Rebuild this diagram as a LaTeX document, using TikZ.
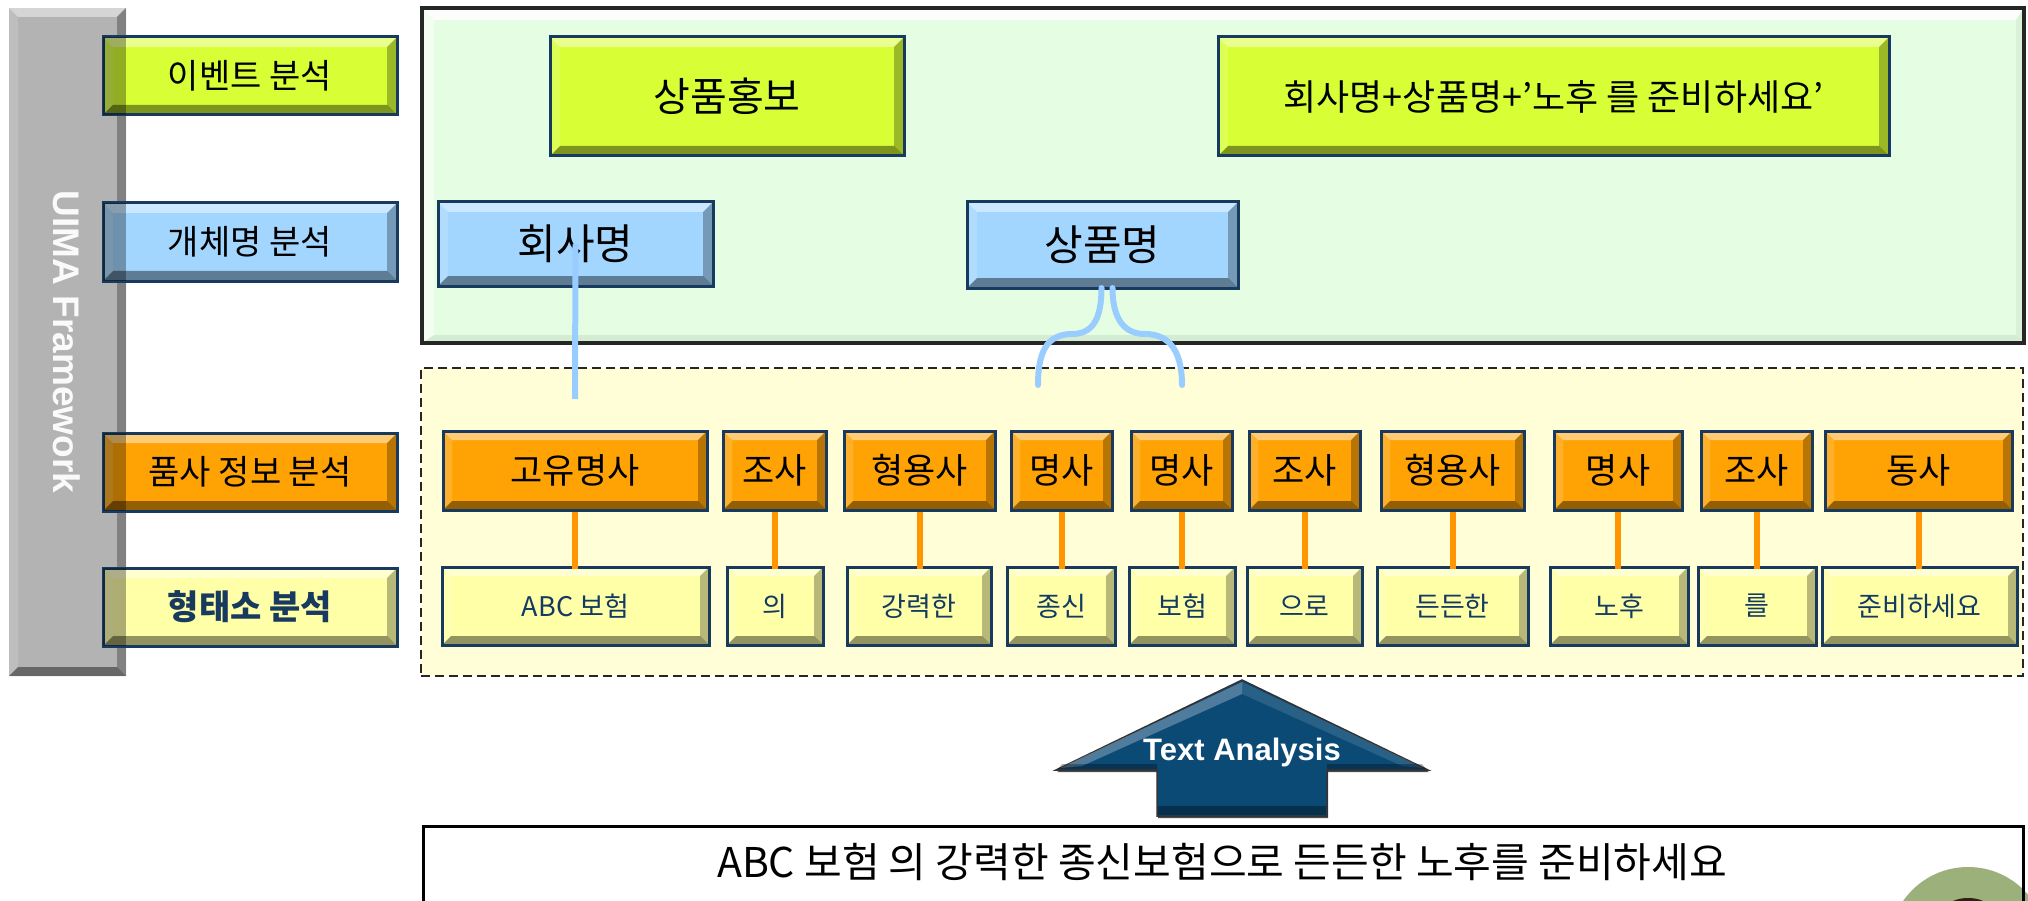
\documentclass[tikz,border=0pt]{standalone}
\usepackage{fontspec}
\setmainfont{Noto Sans CJK KR}
\newfontfamily\arialb{Liberation Sans}
\definecolor{evc}{HTML}{D8FF36}
\definecolor{enc}{HTML}{A3D6FF}
\definecolor{posc}{HTML}{FFA305}
\definecolor{morc}{HTML}{FFFFA8}
\definecolor{navy}{HTML}{173A5E}
\definecolor{oconn}{HTML}{FF9500}
\definecolor{bconn}{HTML}{9ACDFF}
\definecolor{arrc}{HTML}{0C4A76}
\definecolor{greenbg}{HTML}{E5FEE3}
\definecolor{dashbg}{HTML}{FFFED6}
\definecolor{barc}{HTML}{B3B3B3}
\definecolor{blobc}{HTML}{9BB07A}
\definecolor{mtext}{HTML}{123A63}
\tikzset{
  bevel/.style={path picture={
    \path (path picture bounding box.north west) coordinate (bNW)
          (path picture bounding box.north east) coordinate (bNE)
          (path picture bounding box.south west) coordinate (bSW)
          (path picture bounding box.south east) coordinate (bSE);
    \path ([shift={(#1,-#1)}]bNW) coordinate (iNW)
          ([shift={(-#1,-#1)}]bNE) coordinate (iNE)
          ([shift={(#1,#1)}]bSW) coordinate (iSW)
          ([shift={(-#1,#1)}]bSE) coordinate (iSE);
    \fill[white,fill opacity=.45] (bNW) -- (bNE) -- (iNE) -- (iNW) -- cycle;
    \fill[white,fill opacity=.15] (bNW) -- (iNW) -- (iSW) -- (bSW) -- cycle;
    \fill[black,fill opacity=.28] (bNE) -- (bSE) -- (iSE) -- (iNE) -- cycle;
    \fill[black,fill opacity=.42] (bSW) -- (iSW) -- (iSE) -- (bSE) -- cycle;
  }},
  bevel/.default=10pt,
  panelbevel/.style={path picture={
    \path (path picture bounding box.north west) coordinate (bNW)
          (path picture bounding box.north east) coordinate (bNE)
          (path picture bounding box.south west) coordinate (bSW)
          (path picture bounding box.south east) coordinate (bSE);
    \path ([shift={(12pt,-12pt)}]bNW) coordinate (iNW)
          ([shift={(-8pt,-12pt)}]bNE) coordinate (iNE)
          ([shift={(12pt,8pt)}]bSW) coordinate (iSW)
          ([shift={(-8pt,8pt)}]bSE) coordinate (iSE);
    \fill[white,fill opacity=.85] (bNW) -- (bNE) -- (iNE) -- (iNW) -- cycle;
    \fill[white,fill opacity=.5] (bNW) -- (iNW) -- (iSW) -- (bSW) -- cycle;
    \fill[black,fill opacity=.05] (bNE) -- (bSE) -- (iSE) -- (iNE) -- cycle;
    \fill[black,fill opacity=.07] (bSW) -- (iSW) -- (iSE) -- (bSE) -- cycle;
  }},
  boxbase/.style={draw=navy, line width=3pt, inner sep=0pt, outer sep=0pt},
  lblbox/.style={boxbase, bevel, font=\fontsize{34}{36}\selectfont},
  evbox/.style={boxbase, bevel, fill=evc},
  enbox/.style={boxbase, bevel, fill=enc, font=\fontsize{42}{44}\selectfont},
  posbox/.style={boxbase, bevel=9pt, fill=posc, font=\fontsize{35}{37}\selectfont},
  morbox/.style={boxbase, bevel=9pt, fill=morc, text=mtext, font=\fontsize{27}{29}\selectfont},
  barbox/.style={fill=barc, inner sep=0pt, outer sep=0pt, bevel=9pt},
  greenpanel/.style={fill=greenbg, draw=black!85, line width=4pt, inner sep=0pt, outer sep=0pt, panelbevel},
  dashpanel/.style={fill=dashbg, draw=black!85, line width=2.2pt, dash pattern=on 9pt off 5pt, inner sep=0pt, outer sep=0pt},
  sentbox/.style={fill=white, draw=black, line width=3pt, inner sep=0pt, outer sep=0pt},
  oline/.style={draw=oconn, line width=6pt},
  bline/.style={draw=bconn, line width=6pt, line cap=round},
  shade/.style={fill=black, fill opacity=.32},
}
\newcommand\mkbox[7]{\node[#6, minimum width={(#4)-(#2)}, minimum height={(#5)-(#3)}] (#1) at ({((#2)+(#4))/2},{((#3)+(#5))/2}) {#7};}
\begin{document}
\begin{tikzpicture}[x=1pt,y=-1pt]
\useasboundingbox (0,0) rectangle (2028,901);
\clip (0,0) rectangle (2028,901);
\fill[white] (0,0) rectangle (2028,901);

% framework bar
\mkbox{gbar}{9}{8}{126}{676}{barbox}{}

% panels
\mkbox{gpanel}{422}{8}{2024}{343}{greenpanel}{}
\mkbox{dpanel}{421}{368}{2023}{676}{dashpanel}{}
\mkbox{sbox}{423}{826}{2023}{960}{sentbox}{}

% left label boxes
\mkbox{le1}{103}{37}{397}{115}{lblbox, fill=evc}{이벤트 분석}
\mkbox{le2}{103}{203}{397}{281}{lblbox, fill=enc}{개체명 분석}
\mkbox{le3}{103}{433}{397}{511}{lblbox, fill=posc}{품사 정보 분석}
\mkbox{le4}{103}{568}{397}{646}{lblbox, fill=morc, text=navy}{\bfseries 형태소 분석}
\foreach \b in {le1,le2,le3,le4}{
  \fill[shade] (\b.north west) rectangle (\b.south west -| gbar.east);
}
\node[rotate=-90, text=white!96!gray, font=\arialb\bfseries\fontsize{37}{40}\selectfont] (uima) at (67,342) {UIMA Framework};

% event boxes
\mkbox{ev1}{550}{37}{904}{156}{evbox, font=\fontsize{40}{42}\selectfont}{상품홍보}
\mkbox{ev2}{1218}{37}{1889}{156}{evbox, font=\fontsize{36}{38}\selectfont}{회사명+상품명+’노후 를 준비하세요’}

% entity boxes
\mkbox{en1}{438}{202}{713}{286}{enbox}{회사명}
\mkbox{en2}{967}{202}{1238}{288}{enbox}{상품명}

% entity connectors
\coordinate (e1) at (575,399);
\draw[bline, line cap=butt] (en1.center) -- (e1);
\coordinate (lm) at (1072,334);
\coordinate (l1) at (1038,385);
\coordinate (rm) at (1145,334);
\coordinate (r1) at (1182,385);
\draw[bline] ([xshift=-1pt]en2.south) .. controls +(0,32) and +(20,0) .. (lm) .. controls +(-27,0) and +(0,-30) .. (l1);
\draw[bline] ([xshift=10pt]en2.south) .. controls +(0,32) and +(-20,0) .. (rm) .. controls +(27,0) and +(0,-30) .. (r1);

% POS boxes
\mkbox{p1}{443}{431}{707}{510}{posbox}{고유명사}
\mkbox{p2}{723}{431}{826}{510}{posbox}{조사}
\mkbox{p3}{844}{431}{995}{510}{posbox}{형용사}
\mkbox{p4}{1011}{431}{1112}{510}{posbox}{명사}
\mkbox{p5}{1131}{431}{1232}{510}{posbox}{명사}
\mkbox{p6}{1249}{431}{1360}{510}{posbox}{조사}
\mkbox{p7}{1381}{431}{1524}{510}{posbox}{형용사}
\mkbox{p8}{1554}{431}{1682}{510}{posbox}{명사}
\mkbox{p9}{1701}{431}{1812}{510}{posbox}{조사}
\mkbox{p10}{1825}{431}{2012}{510}{posbox}{동사}

% morpheme boxes
\mkbox{m1}{442}{567}{709}{645}{morbox}{ABC 보험}
\mkbox{m2}{727}{567}{823}{645}{morbox}{의}
\mkbox{m3}{847}{567}{991}{645}{morbox}{강력한}
\mkbox{m4}{1007}{567}{1115}{645}{morbox}{종신}
\mkbox{m5}{1129}{567}{1235}{645}{morbox}{보험}
\mkbox{m6}{1247}{567}{1362}{645}{morbox}{으로}
\mkbox{m7}{1377}{567}{1528}{645}{morbox}{든든한}
\mkbox{m8}{1550}{567}{1688}{645}{morbox}{노후}
\mkbox{m9}{1698}{567}{1816}{645}{morbox}{를}
\mkbox{m10}{1822}{567}{2017}{645}{morbox}{준비하세요}

\foreach \i in {1,...,10}{
  \draw[oline] ([yshift=-1.5pt]p\i.south) -- ([yshift=-1.5pt]p\i.south |- m\i.north);
}

% Text Analysis arrow
\fill[black!70] (1243,683) -- (1429,772) -- (1328,772) -- (1328,818) -- (1158,818) -- (1158,772) -- (1057,772) -- cycle;
\filldraw[fill=arrc, draw=black!80, line width=1.5pt] (1242,680) -- (1428,770) -- (1327,770) -- (1327,816) -- (1157,816) -- (1157,770) -- (1056,770) -- cycle;
\fill[white, fill opacity=.28] (1242,682) -- (1242,694) -- (1082,766) -- (1060,768) -- cycle;
\fill[white, fill opacity=.12] (1242,682) -- (1424,768) -- (1402,766) -- (1242,694) -- cycle;
\fill[black, fill opacity=.35] (1158,806) -- (1326,806) -- (1326,815) -- (1158,815) -- cycle;
\fill[black, fill opacity=.3] (1062,764) -- (1157,764) -- (1157,769) -- (1058,769) -- cycle;
\fill[black, fill opacity=.3] (1327,764) -- (1422,764) -- (1426,769) -- (1327,769) -- cycle;
\node[text=white, font=\arialb\bfseries\fontsize{31}{33}\selectfont] (ta) at (1242,752) {Text Analysis};

% sentence
\node[font=\fontsize{41}{43}\selectfont] (sent) at (1222,862) {ABC 보험 의 강력한 종신보험으로 든든한 노후를 준비하세요};

% picture fragment
\fill[blobc] (1968,946) circle[radius=79];
\fill[black!75!brown] (1968,907) ellipse[x radius=20, y radius=9];
\draw[line width=3pt] (sbox.north east) -- (sbox.south east);
\end{tikzpicture}
\end{document}
